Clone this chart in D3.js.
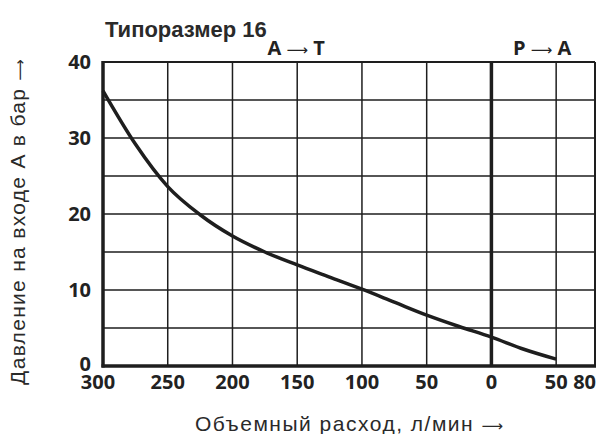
<!DOCTYPE html>
<html>
<head>
<meta charset="utf-8">
<script src="https://cdn.jsdelivr.net/npm/d3@7"></script>
<style>
  body { margin: 0; background: #fff; }
  svg { display: block; }
  .tick-lbl { font-family: "Open Sans", sans-serif; font-weight: 700; font-size: 20px; fill: #222; }
  .ttl { font-family: "Liberation Sans", Arial, sans-serif; fill: #2a2a2a; }
  .arr { font-family: "DejaVu Sans", sans-serif; font-weight: 400; }
</style>
</head>
<body>
<div id="chart"></div>
<script>
// flow in l/min: negative = A -> T side, positive = P -> A side
var flow = [-300, -275, -250, -225, -200, -175, -150, -125, -100, -75, -50, -25, 0, 25, 50];
var pressure = [36.2, 29.2, 23.6, 19.9, 17.1, 15.0, 13.3, 11.7, 10.1, 8.4, 6.7, 5.2, 3.8, 2.2, 0.9];
var xTicks = [-300, -250, -200, -150, -100, -50, 0, 50, 80];
var yTicks = [0, 10, 20, 30, 40];
var yGrid = [5, 10, 15, 20, 25, 30, 35];

var W = 610, H = 434;
var margin = {left: 103, right: 15, top: 62, bottom: 68};

var svg = d3.select("#chart").append("svg").attr("width", W).attr("height", H);

var x = d3.scaleLinear().domain([-300, 80]).range([margin.left, W - margin.right]);
var y = d3.scaleLinear().domain([0, 40]).range([H - margin.bottom, margin.top]);

var ink = "#1e1e1e";

// grid
var g = svg.append("g");
g.selectAll(".vg").data(xTicks.filter(function(d){ return d !== -300 && d !== 0 && d !== 80; }))
  .enter().append("line")
  .attr("x1", function(d){ return x(d); }).attr("x2", function(d){ return x(d); })
  .attr("y1", y(0)).attr("y2", y(40))
  .attr("stroke", ink).attr("stroke-width", 1.5);
g.selectAll(".hg").data(yGrid)
  .enter().append("line")
  .attr("x1", x(-300)).attr("x2", x(80))
  .attr("y1", function(d){ return y(d); }).attr("y2", function(d){ return y(d); })
  .attr("stroke", ink).attr("stroke-width", 1.5);

// frame
svg.append("line").attr("x1", x(-300)).attr("x2", x(80)).attr("y1", y(40)).attr("y2", y(40))
  .attr("stroke", ink).attr("stroke-width", 2);
svg.append("line").attr("x1", x(80)).attr("x2", x(80)).attr("y1", y(0)).attr("y2", y(40))
  .attr("stroke", ink).attr("stroke-width", 2);
svg.append("line").attr("x1", x(0)).attr("x2", x(0)).attr("y1", y(0)).attr("y2", y(40))
  .attr("stroke", ink).attr("stroke-width", 3.5);
svg.append("line").attr("x1", x(-300)).attr("x2", x(-300)).attr("y1", y(0) + 1.5).attr("y2", y(40) - 1)
  .attr("stroke", ink).attr("stroke-width", 3.5);
svg.append("line").attr("x1", x(-300) - 1.5).attr("x2", x(80) + 1).attr("y1", y(0)).attr("y2", y(0))
  .attr("stroke", ink).attr("stroke-width", 3.5);

// curve
var line = d3.line()
  .x(function(d, i){ return x(flow[i]); })
  .y(function(d){ return y(d); })
  .curve(d3.curveMonotoneX);
svg.append("path").datum(pressure)
  .attr("d", line)
  .attr("fill", "none")
  .attr("stroke", ink)
  .attr("stroke-width", 3.5);

// tick labels
svg.selectAll(".xl").data(xTicks).enter().append("text")
  .attr("class", "tick-lbl")
  .attr("x", function(d){ return d === -300 ? x(d) - 5 : d === 80 ? x(d) + 1 : x(d); })
  .attr("y", y(0) + 23)
  .attr("text-anchor", function(d){ return d === 80 ? "end" : "middle"; })
  .text(function(d){ return Math.abs(d); });

svg.selectAll(".yl").data(yTicks).enter().append("text")
  .attr("class", "tick-lbl")
  .attr("x", 91)
  .attr("y", function(d){ return y(d) + (d === 0 ? 5 : 7); })
  .attr("text-anchor", "end")
  .text(function(d){ return d; });

// titles
svg.append("text").attr("class", "ttl")
  .attr("x", 105).attr("y", 37)
  .attr("font-size", 22).attr("font-weight", 700)
  .text("Типоразмер 16");

function arrowLabel(txt1, txt2, cx) {
  var t = svg.append("text").attr("class", "tick-lbl")
    .attr("x", cx).attr("y", 55)
    .attr("text-anchor", "middle").attr("font-size", 21);
  t.append("tspan").text(txt1 + " ");
  t.append("tspan").attr("class", "arr").attr("font-size", 15).text("⟶");
  t.append("tspan").text(" " + txt2);
}
arrowLabel("A", "T", x(-150) - 1);
arrowLabel("P", "A", x(40) - 1);

var xt = svg.append("text").attr("class", "ttl")
  .attr("x", (x(-300) + x(80)) / 2).attr("y", 431)
  .attr("text-anchor", "middle").attr("font-size", 21);
xt.append("tspan").attr("letter-spacing", 1.5).text("Объемный расход, л/мин ");
xt.append("tspan").attr("class", "arr").attr("font-size", 15).text("⟶");

var yt = svg.append("text").attr("class", "ttl")
  .attr("transform", "translate(25," + 222 + ") rotate(-90)")
  .attr("text-anchor", "middle").attr("font-size", 21);
yt.append("tspan").attr("letter-spacing", 1.3).text("Давление на входе А в бар ");
yt.append("tspan").attr("class", "arr").attr("font-size", 15).text("⟶");
</script>
</body>
</html>
